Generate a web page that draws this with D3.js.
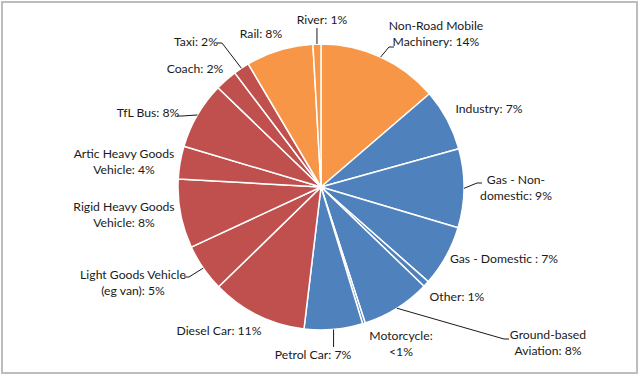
<!DOCTYPE html>
<html>
<head>
<meta charset="utf-8">
<script src="https://cdn.jsdelivr.net/npm/d3@7"></script>
<style>
  html, body { margin: 0; padding: 0; background: #fff; }
  svg text { font-family: Lato, "Liberation Sans", sans-serif; font-size: 12.2px; fill: #1a1a1a; }
</style>
</head>
<body>
<div id="chart"></div>
<script>
// slices, clockwise from 12 o'clock
var categories = ["Non-Road Mobile Machinery", "Industry", "Gas - Non-domestic", "Gas - Domestic",
    "Other", "Ground-based Aviation", "Motorcycle", "Petrol Car", "Diesel Car",
    "Light Goods Vehicle (eg van)", "Rigid Heavy Goods Vehicle", "Artic Heavy Goods Vehicle",
    "TfL Bus", "Coach", "Taxi", "Rail", "River"];
var values = [13.7, 7.0, 8.9, 6.9, 0.7, 7.8, 0.3, 6.6, 10.8, 5.4, 7.8, 3.7, 7.6, 2.5, 1.8, 7.6, 0.9];
var groups = ["other", "other2", "other2", "other2", "other2", "other2", "road", "road", "car",
    "car", "car", "car", "car", "car", "car", "other", "other"];
// label text as printed on the chart (one entry per line)
var labelLines = [
    ["Non-Road Mobile", "Machinery: 14%"], ["Industry: 7%"], ["Gas - Non-", "domestic: 9%"],
    ["Gas - Domestic : 7%"], ["Other: 1%"], ["Ground-based", "Aviation: 8%"], ["Motorcycle:", "<1%"],
    ["Petrol Car: 7%"], ["Diesel Car: 11%"], ["Light Goods Vehicle", "(eg van): 5%"],
    ["Rigid Heavy Goods", "Vehicle: 8%"], ["Artic Heavy Goods", "Vehicle: 4%"], ["TfL Bus: 8%"],
    ["Coach: 2%"], ["Taxi: 2%"], ["Rail: 8%"], ["River: 1%"]];

// layout: label centres (relative to pie centre) and leader end points (relative to label centre)
var labelXY = [[115, -153], [168, -78], [195, 1], [183, 72], [136, 110], [227, 156], [80, 157],
    [-8, 168], [-102, 144], [-188, 96], [-197, 28], [-197, -25], [-173, -74], [-126, -118],
    [-125, -145], [-60, -153], [1, -167]];
var leaderEnd = [[-42, 13], null, [-34, -5], null, null, [-39, -4], null, [null, -8], null,
    [51, -6], null, null, [29, 3], null, [21, 1], null, [null, 8]];

var colors = { other: "#F79646", other2: "#4F81BD", road: "#4F81BD", car: "#C0504D" };

var W = 640, H = 376, cx = 321, cy = 187, r = 143, lineH = 16.3;

var svg = d3.select("#chart").append("svg")
    .attr("width", W).attr("height", H);

svg.append("rect")
    .attr("x", 2).attr("y", 2).attr("width", 635).attr("height", 371)
    .attr("fill", "#fff").attr("stroke", "#bdbdbd").attr("stroke-width", 2);

var g = svg.append("g").attr("transform", "translate(" + cx + "," + cy + ")");

var pie = d3.pie().sort(null).value(function(d) { return d; });
var arc = d3.arc().innerRadius(0).outerRadius(r);
var arcs = pie(values);

g.selectAll("path.slice")
    .data(arcs)
    .enter().append("path")
    .attr("class", "slice")
    .attr("d", arc)
    .attr("fill", function(d, i) { return colors[groups[i]]; })
    .attr("stroke", "#fff")
    .attr("stroke-width", 1.5)
    .attr("stroke-linejoin", "round");

// leader lines: from slice edge (mid angle) to the label
arcs.forEach(function(d, i) {
    var le = leaderEnd[i];
    if (!le) return;
    var a = (d.startAngle + d.endAngle) / 2;
    var ex = r * Math.sin(a), ey = -r * Math.cos(a);
    var lx = labelXY[i][0], ly = labelXY[i][1];
    var pts;
    if (le[0] === null) {
        // straight vertical leader
        pts = [[ex, ey], [ex, ly + le[1]]];
    } else {
        var tx = lx + le[0], ty = ly + le[1];
        var elbow = tx + (le[0] < 0 ? -5 : 5);
        pts = [[ex, ey], [elbow, ty], [tx, ty]];
    }
    g.append("path")
        .attr("d", d3.line()(pts))
        .attr("fill", "none")
        .attr("stroke", "#1a1a1a")
        .attr("stroke-width", 1);
});

// labels
var lbl = g.selectAll("text.lbl")
    .data(arcs)
    .enter().append("text")
    .attr("class", "lbl")
    .attr("text-anchor", "middle");

lbl.each(function(d, i) {
    var lines = labelLines[i];
    var t = d3.select(this);
    var y0 = labelXY[i][1] - (lines.length - 1) * lineH / 2;
    lines.forEach(function(s, k) {
        t.append("tspan")
            .attr("x", labelXY[i][0])
            .attr("y", y0 + k * lineH)
            .attr("dy", "0.35em")
            .text(s);
    });
});
</script>
</body>
</html>
